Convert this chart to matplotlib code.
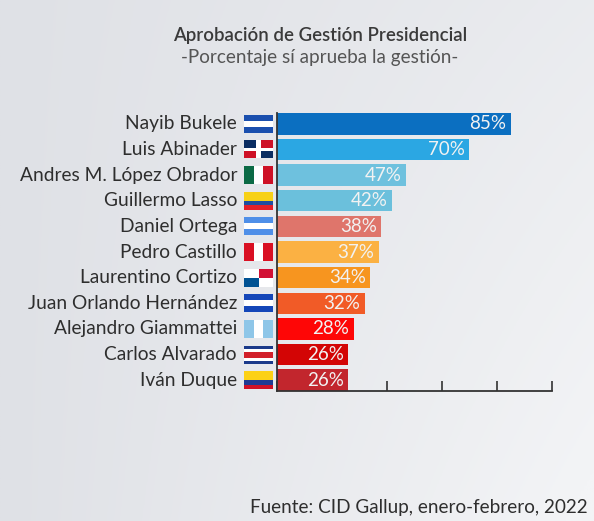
import matplotlib.pyplot as plt
import numpy as np
from matplotlib.colors import to_rgb
from matplotlib.patches import Rectangle
from matplotlib.transforms import blended_transform_factory

names = ['Nayib Bukele', 'Luis Abinader', 'Andres M. López Obrador', 'Guillermo Lasso',
         'Daniel Ortega', 'Pedro Castillo', 'Laurentino Cortizo', 'Juan Orlando Hernández',
         'Alejandro Giammattei', 'Carlos Alvarado', 'Iván Duque']
approval = [85, 70, 47, 42, 38, 37, 34, 32, 28, 26, 26]
bar_colors = ['#0b6fc1', '#2ba7e3', '#6ec1de', '#6bc0dc', '#df756b', '#fbb143',
              '#f7951f', '#f15b27', '#fe0606', '#d30505', '#c2262d']
ticks = [0, 20, 40, 60, 80, 100]

# simplified flags: orientation + (colour, weight) stripes, or quarters
flags = [
    ('h', [('#1a4fae', 1), ('#ffffff', 1), ('#1a4fae', 1)]),
    ('q', ['#0a2d62', '#ce1126', '#ce1126', '#0a2d62']),
    ('v', [('#0b6a45', 1), ('#ffffff', 1), ('#ce1126', 1)]),
    ('h', [('#f7d117', 2), ('#1f4ea1', 1), ('#e3202a', 1)]),
    ('h', [('#4f8fe8', 1), ('#ffffff', 1), ('#4f8fe8', 1)]),
    ('v', [('#d91023', 1), ('#ffffff', 1), ('#d91023', 1)]),
    ('q', ['#ffffff', '#d21034', '#005293', '#ffffff']),
    ('h', [('#1446b8', 1), ('#ffffff', 1), ('#1446b8', 1)]),
    ('v', [('#8ec6e8', 1), ('#ffffff', 1), ('#8ec6e8', 1)]),
    ('h', [('#1b3a8a', 1), ('#ffffff', 1), ('#d2202a', 2), ('#ffffff', 1), ('#1b3a8a', 1)]),
    ('h', [('#fcd116', 2), ('#1f3a93', 1), ('#ce1126', 1)]),
]

plt.rcParams['font.family'] = ['Lato', 'DejaVu Sans']

fig = plt.figure(figsize=(5.94, 5.21), dpi=100)

# background: grey on the left, lighter towards bottom right
bg = fig.add_axes([0, 0, 1, 1], zorder=-10)
gx, gy = np.meshgrid(np.linspace(0, 1, 200), np.linspace(0, 1, 200))
t = np.clip(0.55 * gx + 0.5 * gy * gx, 0, 1)[..., None]
c0, c1 = np.array(to_rgb('#dfe1e6')), np.array(to_rgb('#f3f4f6'))
bg.imshow(c0 + (c1 - c0) * t, extent=[0, 1, 0, 1], aspect='auto', origin='upper')
bg.set_xlim(0, 1)
bg.set_ylim(0, 1)
bg.axis('off')

ax = fig.add_axes([0.4663, 0.2495, 0.4630, 0.5336])
ax.patch.set_alpha(0)
y = np.arange(len(names))
ax.barh(y, approval, height=0.84, color=bar_colors, zorder=3)

for yi, v in zip(y, approval):
    ax.annotate(f'{v}%', xy=(v, yi), xytext=(-3.5, 0), textcoords='offset points',
                ha='right', va='center', color='#f2f2f2', fontsize=13.5, zorder=5)

ax.set_xlim(0, 100)
ax.set_ylim(len(names) - 0.58, -0.42)
ax.set_xticks(ticks)
ax.set_xticklabels([])
ax.tick_params(axis='x', direction='in', length=7, width=1.2, color='#333333')
ax.set_yticks([])
for s in ['top', 'right']:
    ax.spines[s].set_visible(False)
for s in ['left', 'bottom']:
    ax.spines[s].set_color('#333333')
    ax.spines[s].set_linewidth(1.3)
    ax.spines[s].set_zorder(4)

# names and flags
trans = blended_transform_factory(fig.transFigure, ax.transData)
fx0, fw, fh = 244 / 594, 29 / 594, 0.7
for yi, name, flag in zip(y, names, flags):
    ax.text(237 / 594, yi, name, transform=trans, ha='right', va='center',
            fontsize=13.8, color='#2e2e2e')
    kind, spec = flag
    top = yi - fh / 2
    if kind == 'h':
        total = sum(w for _, w in spec)
        pos = top
        for c, w in spec:
            h = fh * w / total
            ax.add_patch(Rectangle((fx0, pos), fw, h, transform=trans, color=c,
                                   clip_on=False, lw=0))
            pos += h
    elif kind == 'v':
        total = sum(w for _, w in spec)
        pos = fx0
        for c, w in spec:
            wd = fw * w / total
            ax.add_patch(Rectangle((pos, top), wd, fh, transform=trans, color=c,
                                   clip_on=False, lw=0))
            pos += wd
    else:
        for k, c in enumerate(spec):
            qx = fx0 + (k % 2) * fw / 2
            qy = top + (k // 2) * fh / 2
            ax.add_patch(Rectangle((qx, qy), fw / 2, fh / 2, transform=trans, color=c,
                                   clip_on=False, lw=0))
        if spec[0] != '#ffffff':
            # white cross of the Dominican flag
            ax.add_patch(Rectangle((fx0 + fw * 0.42, top), fw * 0.16, fh, transform=trans,
                                   color='white', clip_on=False, lw=0))
            ax.add_patch(Rectangle((fx0, yi - fh * 0.1), fw, fh * 0.2, transform=trans,
                                   color='white', clip_on=False, lw=0))

fig.text(320 / 594, 1 - 35 / 521, 'Aprobación de Gestión Presidencial', ha='center',
         va='center', fontsize=13.4, fontweight='semibold', color='#3a3a3a')
fig.text(320 / 594, 1 - 58 / 521, '-Porcentaje sí aprueba la gestión-', ha='center',
         va='center', fontsize=13.6, color='#555555')
fig.text(588 / 594, 1 - 507 / 521, 'Fuente: CID Gallup, enero-febrero, 2022', ha='right',
         va='center', fontsize=13.6, color='#2e2e2e')

fig.savefig('out.png', dpi=100)
